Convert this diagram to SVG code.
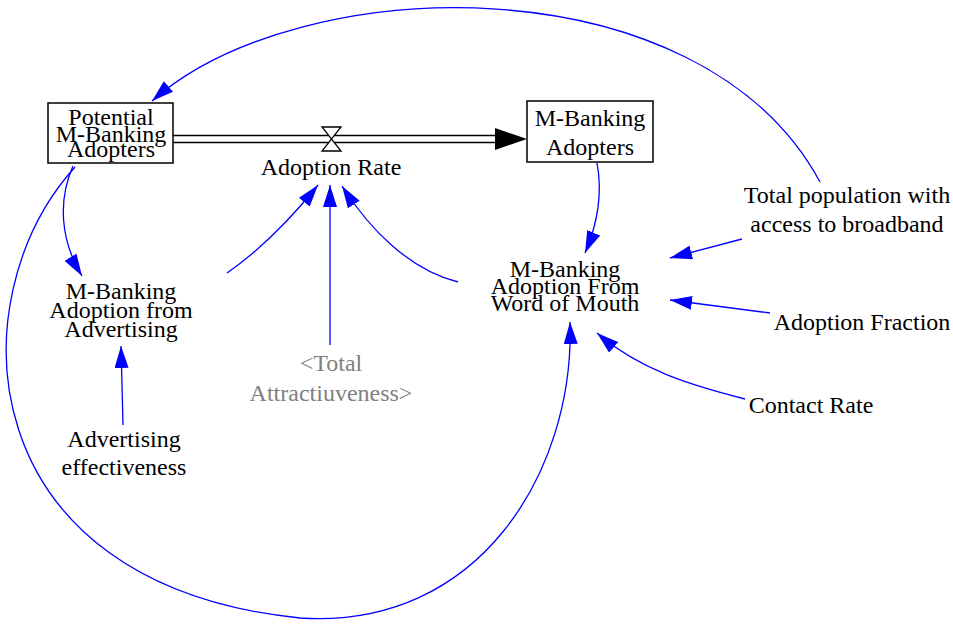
<svg xmlns="http://www.w3.org/2000/svg" width="953" height="624" viewBox="0 0 953 624">
<defs>
<marker id="ah" markerUnits="userSpaceOnUse" markerWidth="22" markerHeight="14" refX="22" refY="7" orient="auto">
<path d="M0,0 L22,7 L0,14 z" fill="#0000ff"/>
</marker>
<style>
text{font-family:"Liberation Serif","DejaVu Serif","Times New Roman",serif;font-size:24px;fill:#000;text-anchor:middle}
.g{fill:#808080}
.c{fill:none;stroke:#0000ff;stroke-width:1.3;marker-end:url(#ah)}
.box{fill:#fff;stroke:#000;stroke-width:1.5}
</style>
</defs>
<rect width="953" height="624" fill="#fff"/>
<g id="connectors">
<path class="c" d="M820,182 C700,-40 300,-30 152,101"/>
<path class="c" d="M75,167 C-45,300 -30,585 300,618 C480,630 575,470 570,322"/>
<path class="c" d="M73,166 C58,200 60,240 82,276"/>
<path class="c" d="M123,425 L121,346"/>
<path class="c" d="M227,273 C260,250 290,220 318,185"/>
<path class="c" d="M330,345 L330,185"/>
<path class="c" d="M458,282 C410,270 370,230 342,186"/>
<path class="c" d="M597,163 C603,195 597,225 585,253"/>
<path class="c" d="M742,239 L670,258"/>
<path class="c" d="M770,313 L670,300"/>
<path class="c" d="M745,399 C690,385 640,370 597,333"/>
</g>
<g id="flow">
<line x1="173" y1="135.5" x2="497" y2="135.5" stroke="#000" stroke-width="1.5"/>
<line x1="173" y1="142.5" x2="497" y2="142.5" stroke="#000" stroke-width="1.5"/>
<path d="M495,128 L527,139 L495,150 z" fill="#000"/>
<path d="M322,127 L341,127 L322,151 L341,151 z" fill="#fff" stroke="#000" stroke-width="1.3"/>
</g>
<g id="potential">
<rect class="box" x="48" y="103" width="125" height="60"/>
<text x="111" y="125">Potential</text>
<text x="111" y="142">M-Banking</text>
<text x="111" y="157">Adopters</text>
</g>
<g id="adopters">
<rect class="box" x="527" y="101" width="126" height="61"/>
<text x="590" y="126">M-Banking</text>
<text x="590" y="155">Adopters</text>
</g>
<g id="adoption-rate"><text x="331" y="175">Adoption Rate</text></g>
<g id="adv"><text x="121" y="299">M-Banking</text><text x="121" y="318">Adoption from</text><text x="121" y="337">Advertising</text></g>
<g id="adv-eff"><text x="124" y="447">Advertising</text><text x="124" y="475">effectiveness</text></g>
<g id="total-attr"><text class="g" x="331" y="371">&lt;Total</text><text class="g" x="331" y="401">Attractiuveness&gt;</text></g>
<g id="wom"><text x="565" y="277">M-Banking</text><text x="565" y="294">Adoption From</text><text x="565" y="311">Word of Mouth</text></g>
<g id="total-pop"><text x="847" y="203">Total population with</text><text x="847" y="232">access to broadband</text></g>
<g id="adoption-fraction"><text x="862" y="330">Adoption Fraction</text></g>
<g id="contact-rate"><text x="811" y="413">Contact Rate</text></g>
</svg>
